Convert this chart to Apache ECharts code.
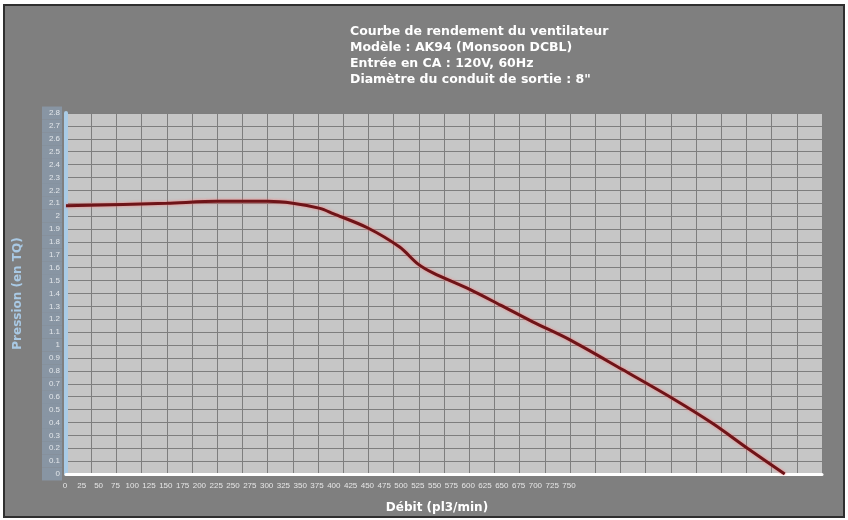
<!DOCTYPE html>
<html>
<head>
<meta charset="utf-8">
<script src="https://cdn.jsdelivr.net/npm/echarts@6/dist/echarts.min.js"></script>
<style>
html,body{margin:0;padding:0;background:#ffffff;}
#frame{position:absolute;left:3px;top:4px;width:842px;height:514px;box-sizing:border-box;background:#7f7f7f;border:2px solid #2f2f2f;}
#chart{position:absolute;left:0;top:0;width:848px;height:520px;}
</style>
</head>
<body>
<div id="frame"></div>
<div id="chart"></div>
<script>
// Data (flow in pl3/min, pressure in TQ)
const flow =     [0,    100,  150,  200,  225,  252,  265,  299,  331,  349,  364,  401,  431,  463,  500,  552,  601,  642,  676,  713];
const pressure = [2.08, 2.10, 2.115,2.115,2.10, 2.06, 2.02, 1.91, 1.76, 1.63, 1.56, 1.43, 1.31, 1.18, 1.04, 0.81, 0.59, 0.39, 0.20, 0.00];
const titleLines = [
  'Courbe de rendement du ventilateur',
  'Modèle : AK94 (Monsoon DCBL)',
  'Entrée en CA : 120V, 60Hz',
  'Diamètre du conduit de sortie : 8"'
];
const xName = 'Débit (pl3/min)';
const yName = 'Pression (en TQ)';
const xMax = 750, xStep = 25;
const yMax = 2.8, yStep = 0.1;

const chart = echarts.init(document.getElementById('chart'), null, {renderer: 'canvas'});
chart.setOption({
  backgroundColor: 'transparent',
  animation: false,
  title: {
    text: titleLines.join('\n'),
    left: 345, top: 19,
    textStyle: {color: '#ffffff', fontFamily: 'DejaVu Sans', fontWeight: 'bold', fontSize: 12.5, lineHeight: 16}
  },
  grid: [
    {left: 66, top: 113, width: 756, height: 361, show: true, backgroundColor: '#c6c6c6', borderWidth: 0},
    {left: 65, top: 113, width: 504, height: 361, show: false}
  ],
  xAxis: [
    {
      type: 'value', gridIndex: 0, min: 0, max: xMax, interval: xStep,
      name: xName, nameLocation: 'middle', nameGap: 28,
      nameTextStyle: {color: '#ffffff', fontFamily: 'DejaVu Sans', fontWeight: 'bold', fontSize: 12, padding: [0, 14, 0, 0]},
      axisLine: {show: true, lineStyle: {color: '#ffffff', width: 3}},
      axisTick: {show: false},
      axisLabel: {show: false},
      splitLine: {show: true, lineStyle: {color: '#7e7e7e', width: 1}}
    },
    {
      type: 'value', gridIndex: 1, min: 0, max: xMax, interval: xStep,
      axisLine: {show: false}, axisTick: {show: false}, splitLine: {show: false},
      axisLabel: {color: '#e6e6e6', fontFamily: 'Liberation Sans', fontSize: 8, margin: 8}
    }
  ],
  yAxis: [
    {
      type: 'value', gridIndex: 0, min: 0, max: yMax, interval: yStep,
      name: yName, nameLocation: 'middle', nameGap: 42, nameRotate: 90,
      nameTextStyle: {color: '#a9c9e4', fontFamily: 'DejaVu Sans', fontWeight: 'bold', fontSize: 12},
      axisLine: {show: true, lineStyle: {color: '#a9cbe6', width: 4}},
      axisTick: {show: false},
      axisLabel: {color: '#e2e6ea', fontFamily: 'Liberation Sans', fontSize: 8, margin: 4,
        backgroundColor: '#8895a3', width: 18, lineHeight: 13, align: 'right', padding: [0, 2, 0, 0]},
      splitLine: {show: true, lineStyle: {color: '#7e7e7e', width: 1}}
    },
    {type: 'value', gridIndex: 1, show: false, min: 0, max: yMax}
  ],
  series: [{
    type: 'line', xAxisIndex: 0, yAxisIndex: 0,
    data: flow.map((f, i) => [f, pressure[i]]),
    smooth: 0.3, symbol: 'none',
    lineStyle: {color: '#6e1418', width: 3, shadowColor: 'rgba(255,110,110,0.8)', shadowBlur: 3}
  }]
});
</script>
</body>
</html>
